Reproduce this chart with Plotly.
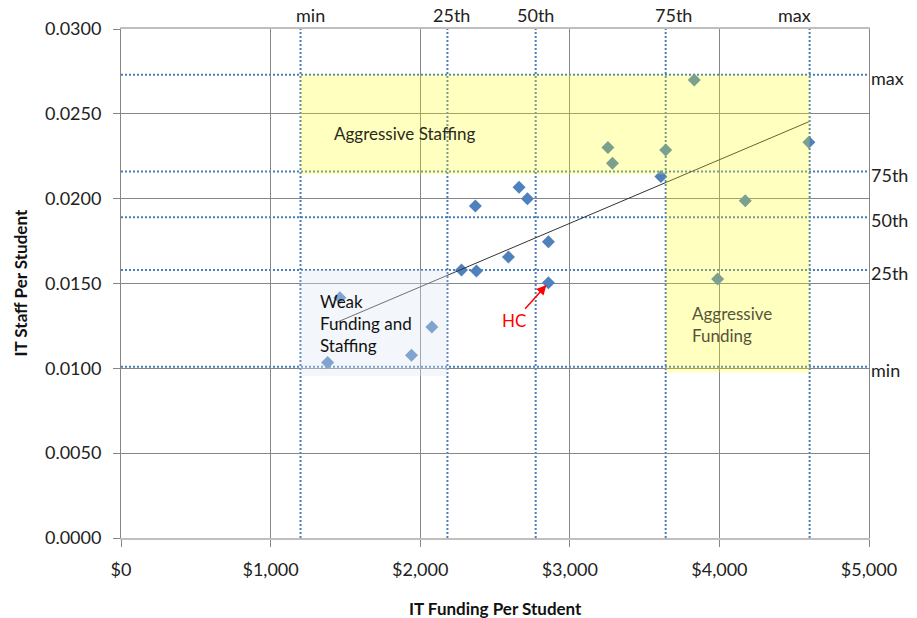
import numpy as np
import plotly.graph_objects as go

# IT funding ($ per student) and IT staff (FTE per student) by institution
funding = [1381, 1463, 1942, 2078, 2276, 2376, 2369, 2590, 2661, 2717,
           2857, 2857, 3609, 3255, 3285, 3641, 3832, 4598, 4173, 3988]
staff = [0.01034, 0.01416, 0.01077, 0.01244, 0.01579, 0.01573, 0.01957, 0.01656, 0.02067, 0.02000,
         0.01746, 0.01504, 0.02130, 0.02301, 0.02209, 0.02287, 0.02700, 0.02333, 0.01988, 0.01526]
hc_index = 11

# peer-group percentiles
pct_labels = ["min", "25th", "50th", "75th", "max"]
funding_pct = [1200, 2182, 2772, 3641, 4603]
staff_pct = [0.0101, 0.0158, 0.0189, 0.0216, 0.0273]

# linear trend range (funding)
trend_start = 1430

# quadrant zones
staffing_zone_x = [1200, 4603]
staffing_zone_y = [0.02144, 0.0273]
funding_zone_x = [3641, 4603]
funding_zone_y = [0.00975, 0.02144]
weak_zone_x = [1200, 2182]
weak_zone_y = [0.00955, 0.0158]

x_ticks = [0, 1000, 2000, 3000, 4000, 5000]
x_tick_labels = ["$0", "$1,000", "$2,000", "$3,000", "$4,000", "$5,000"]
y_ticks = [0.0, 0.005, 0.010, 0.015, 0.020, 0.025, 0.030]

FONT = "Lato"
GRID = "#868686"
DOT_BLUE = "#4A7EBB"

slope, intercept = np.polyfit(funding, staff, 1)
trend_x = np.array([trend_start, max(funding)])
trend_y = slope * trend_x + intercept

fig = go.Figure()

fig.add_trace(go.Scatter(
    x=funding, y=staff, mode="markers",
    marker=dict(symbol="diamond", size=10, color="#4F81BD", line=dict(width=0)),
    showlegend=False, hoverinfo="x+y",
))
fig.add_trace(go.Scatter(
    x=trend_x, y=trend_y, mode="lines",
    line=dict(color="#333333", width=1),
    showlegend=False, hoverinfo="skip",
))

shapes = []
for v in funding_pct:
    shapes.append(dict(type="line", xref="x", yref="paper", x0=v, x1=v, y0=0, y1=1,
                       line=dict(color=DOT_BLUE, width=2, dash="2px,2px"), layer="between"))
for v in staff_pct:
    shapes.append(dict(type="line", xref="paper", yref="y", x0=0, x1=1, y0=v, y1=v,
                       line=dict(color=DOT_BLUE, width=2, dash="2px,2px"), layer="between"))

for zx, zy in [(staffing_zone_x, staffing_zone_y), (funding_zone_x, funding_zone_y)]:
    shapes.append(dict(type="rect", xref="x", yref="y", x0=zx[0], x1=zx[1], y0=zy[0], y1=zy[1],
                       fillcolor="rgba(255,255,0,0.25)", line=dict(width=0), layer="above"))
shapes.append(dict(type="rect", xref="x", yref="y",
                   x0=weak_zone_x[0], x1=weak_zone_x[1], y0=weak_zone_y[0], y1=weak_zone_y[1],
                   fillcolor="rgba(220,230,242,0.35)", line=dict(width=0), layer="above"))

annotations = []
top_shift = [10, 4, 0, 8, -15]
for lab, v, dx in zip(pct_labels, funding_pct, top_shift):
    annotations.append(dict(text=lab, x=v, xref="x", y=1, yref="paper", yanchor="middle",
                            xanchor="center", xshift=dx, yshift=14, showarrow=False,
                            font=dict(family=FONT, size=18, color="#222222")))
for lab, v in zip(pct_labels, staff_pct):
    annotations.append(dict(text=lab, x=1, xref="paper", y=v, yref="y", xanchor="left",
                            yanchor="middle", xshift=0, yshift=-3, showarrow=False,
                            font=dict(family=FONT, size=18, color="#222222")))

annotations += [
    dict(text="Aggressive Staffing", x=1409, y=0.02382, xref="x", yref="y",
         xanchor="left", yanchor="middle", showarrow=False,
         font=dict(family=FONT, size=17, color="#2A2A1A")),
    dict(text="Weak<br>Funding and<br>Staffing", x=1316, y=0.01264, xref="x", yref="y",
         xanchor="left", yanchor="middle", align="left", showarrow=False,
         font=dict(family=FONT, size=17, color="#111111")),
    dict(text="Aggressive<br>Funding", x=3801, y=0.01261, xref="x", yref="y",
         xanchor="left", yanchor="middle", align="left", showarrow=False,
         font=dict(family=FONT, size=17, color="#55553A")),
    dict(text="HC", x=funding[hc_index], y=staff[hc_index], xref="x", yref="y",
         ax=-34, ay=38, showarrow=True, arrowhead=2, arrowsize=1.3, arrowwidth=1.5,
         arrowcolor="#FF0000", standoff=3,
         font=dict(family=FONT, size=17, color="#FF0000")),
    dict(text="<b>IT Funding Per Student</b>", x=0.5, xref="paper", y=0, yref="paper",
         yanchor="middle", yshift=-70, showarrow=False,
         font=dict(family=FONT, size=17, color="#111111")),
    dict(text="<b>IT Staff Per Student</b>", x=0, xref="paper", y=0.5, yref="paper",
         xanchor="center", xshift=-101, textangle=-90, showarrow=False,
         font=dict(family=FONT, size=17, color="#111111")),
]

fig.update_layout(
    width=917, height=618,
    margin=dict(l=121, r=48, t=29, b=80),
    paper_bgcolor="white", plot_bgcolor="white",
    font=dict(family=FONT, size=18, color="#222222"),
    shapes=shapes, annotations=annotations,
    xaxis=dict(range=[0, 5000], tickvals=x_ticks, ticktext=x_tick_labels,
               showgrid=True, gridcolor=GRID, gridwidth=1, zeroline=False,
               showline=True, linecolor="#BFBFBF", linewidth=2, mirror=True,
               ticks="outside", ticklen=7, tickcolor=GRID, ticklabelstandoff=7,
               tickfont=dict(family=FONT, size=18, color="#222222")),
    yaxis=dict(range=[0, 0.03], tickvals=y_ticks, tickformat=".4f",
               showgrid=True, gridcolor=GRID, gridwidth=1, zeroline=False,
               showline=True, linecolor=GRID, linewidth=1, mirror=True,
               ticks="outside", ticklen=7, tickcolor=GRID, ticklabelstandoff=8,
               tickfont=dict(family=FONT, size=18, color="#222222")),
)

fig.write_html("out.html")
